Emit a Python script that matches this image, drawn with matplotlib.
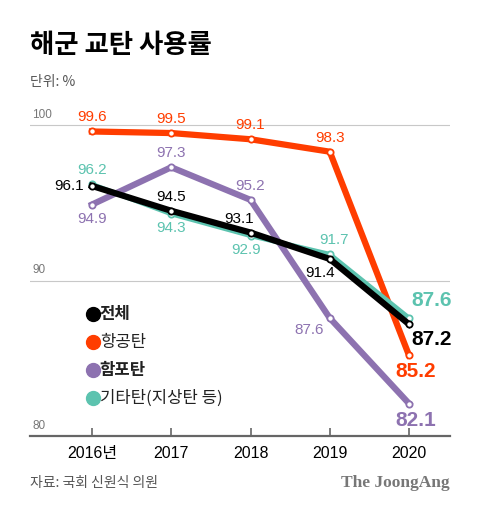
import matplotlib
matplotlib.use("Agg")
import matplotlib.pyplot as plt

plt.rcParams["font.family"] = ["Liberation Sans", "Noto Sans CJK KR"]

years = [2016, 2017, 2018, 2019, 2020]
year_labels = ["2016년", "2017", "2018", "2019", "2020"]

total = [96.1, 94.5, 93.1, 91.4, 87.2]
aerial = [99.6, 99.5, 99.1, 98.3, 85.2]
naval = [94.9, 97.3, 95.2, 87.6, 82.1]
other = [96.2, 94.3, 92.9, 91.7, 87.6]

BLACK = "#000000"
ORANGE = "#FF3D00"
PURPLE = "#8D72B0"
TEAL = "#5CC3AF"
GRAY = "#777777"

fig = plt.figure(figsize=(4.8, 5.12), dpi=100)
ax = fig.add_axes([0.0625, 0.148, 0.875, 0.6377])
ax.set_xlim(2015.218, 2020.517)
ax.set_ylim(80, 101)

for v in [90, 100]:
    ax.axhline(v, color="#C8C8C8", linewidth=0.8, zorder=1)
    ax.text(2015.25, v + 0.3, str(v), color=GRAY, fontsize=8.5, va="bottom", ha="left")
ax.text(2015.25, 80.3, "80", color=GRAY, fontsize=8.5, va="bottom", ha="left")

for side in ["top", "right", "left"]:
    ax.spines[side].set_visible(False)
ax.spines["bottom"].set_color("#666666")
ax.spines["bottom"].set_linewidth(1.6)
ax.set_yticks([])
ax.set_xticks(years, labels=year_labels)
ax.tick_params(axis="x", direction="in", length=6, width=1.2, color="#666666",
               labelsize=11.5, pad=7)

marker = dict(marker="o", markersize=4.5, markerfacecolor="white", markeredgewidth=1.3)
ax.plot(years, naval, color=PURPLE, linewidth=4.5, markeredgecolor=PURPLE, zorder=3, **marker)
ax.plot(years, aerial, color=ORANGE, linewidth=4.5, markeredgecolor=ORANGE, zorder=4, **marker)
ax.plot(years, other, color=TEAL, linewidth=3.5, markeredgecolor=TEAL, zorder=5, **marker)
ax.plot(years, total, color=BLACK, linewidth=4.5, markeredgecolor=BLACK, zorder=6, **marker)

small = 11
# orange labels
for x, v in zip(years[:4], aerial[:4]):
    ax.text(x, v + 0.45, f"{v}", color=ORANGE, fontsize=small, ha="center", va="bottom")
# purple labels
ax.text(years[0], naval[0] - 0.5, f"{naval[0]}", color=PURPLE, fontsize=small, ha="center", va="top")
ax.text(years[1], naval[1] + 0.45, f"{naval[1]}", color=PURPLE, fontsize=small, ha="center", va="bottom")
ax.text(years[2], naval[2] + 0.45, f"{naval[2]}", color=PURPLE, fontsize=small, ha="center", va="bottom")
ax.text(years[3] - 0.08, naval[3] - 0.75, f"{naval[3]}", color=PURPLE, fontsize=small, ha="right", va="center")
# teal labels
ax.text(years[0], other[0] + 0.45, f"{other[0]}", color=TEAL, fontsize=small, ha="center", va="bottom")
ax.text(years[1], other[1] - 0.45, f"{other[1]}", color=TEAL, fontsize=small, ha="center", va="top")
ax.text(years[2] - 0.05, other[2] - 0.45, f"{other[2]}", color=TEAL, fontsize=small, ha="center", va="top")
ax.text(years[3] + 0.05, other[3] + 0.45, f"{other[3]}", color=TEAL, fontsize=small, ha="center", va="bottom")
# black labels
ax.text(years[0] - 0.1, total[0], f"{total[0]}", color=BLACK, fontsize=small, ha="right", va="center")
ax.text(years[1], total[1] + 0.45, f"{total[1]}", color=BLACK, fontsize=small, ha="center", va="bottom")
ax.text(years[2] - 0.15, total[2] + 0.45, f"{total[2]}", color=BLACK, fontsize=small, ha="center", va="bottom")
ax.text(years[3] - 0.12, total[3] - 0.45, f"{total[3]}", color=BLACK, fontsize=small, ha="center", va="top")

# end labels
big = 15
ax.text(years[4] + 0.03, other[4] + 0.5, f"{other[4]}", color=TEAL, fontsize=big, fontweight="bold", ha="left", va="bottom")
ax.text(years[4] + 0.03, total[4] - 0.4, f"{total[4]}", color=BLACK, fontsize=big, fontweight="bold", ha="left", va="top")
ax.text(years[4] + 0.08, aerial[4] - 0.45, f"{aerial[4]}", color=ORANGE, fontsize=big, fontweight="bold", ha="center", va="top")
ax.text(years[4] + 0.08, naval[4] - 0.45, f"{naval[4]}", color=PURPLE, fontsize=big, fontweight="bold", ha="center", va="top")

# legend
legend = [("전체", BLACK, "bold"), ("항공탄", ORANGE, "normal"),
          ("함포탄", PURPLE, "bold"), ("기타탄(지상탄 등)", TEAL, "normal")]
for i, (name, color, weight) in enumerate(legend):
    y = 0.374 - i * 0.0858
    ax.plot(0.15, y, "o", color=color, markersize=10, transform=ax.transAxes, clip_on=False)
    ax.text(0.166, y, name, color="#222222", fontsize=12, fontweight=weight,
            ha="left", va="center", transform=ax.transAxes,
            family=["Noto Sans CJK KR", "Liberation Sans"])

fig.text(0.0625, 0.912, "해군 교탄 사용률", fontsize=19, fontweight="bold",
         family=["Noto Sans CJK KR"], ha="left", va="center")
fig.text(0.0625, 0.84, "단위: %", fontsize=10, color="#555555",
         family=["Noto Sans CJK KR"], ha="left", va="center")
fig.text(0.0625, 0.057, "자료: 국회 신원식 의원", fontsize=10, color="#555555",
         family=["Noto Sans CJK KR"], ha="left", va="center")
fig.text(0.9375, 0.057, "The JoongAng", fontsize=12.5, color="#777777", fontweight="bold",
         family=["Liberation Serif"], ha="right", va="center")

fig.savefig("out.png", dpi=100)
